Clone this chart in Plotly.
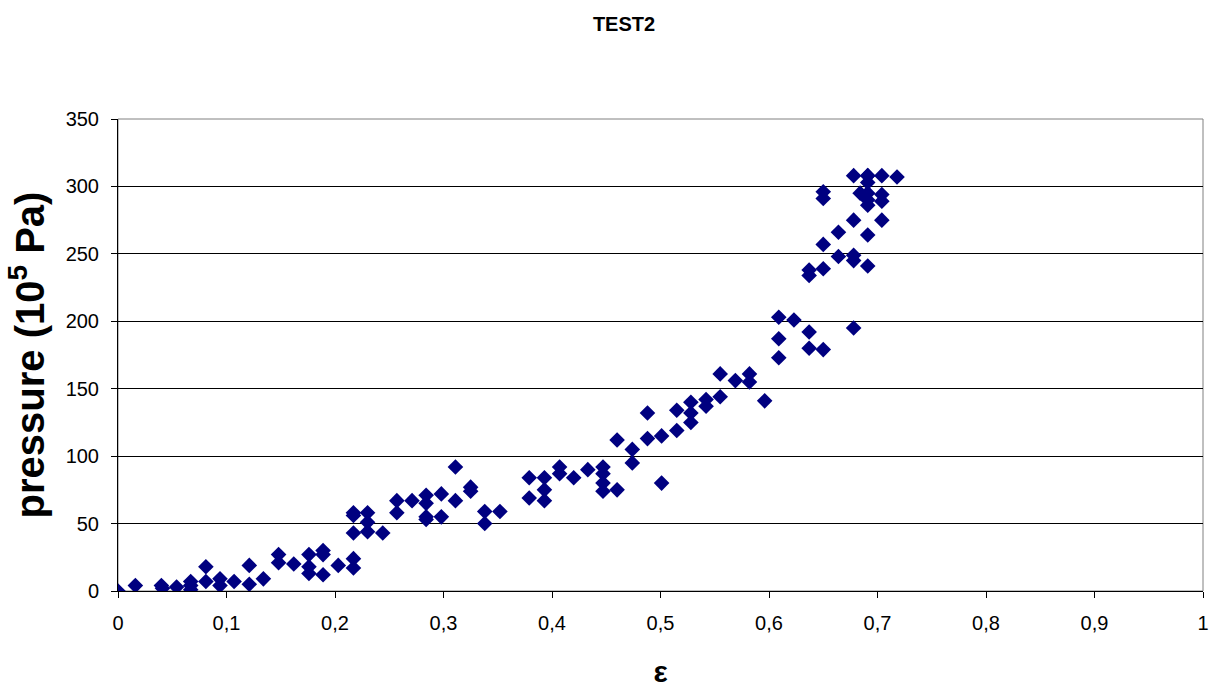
import plotly.graph_objects as go

eps = [
    0.000, 0.016, 0.040, 0.041, 0.054, 0.067, 0.067, 0.067, 0.081, 0.081,
    0.094, 0.094, 0.107, 0.121, 0.121, 0.134, 0.148, 0.148, 0.162, 0.176,
    0.176, 0.176, 0.189, 0.189, 0.189, 0.203, 0.217, 0.217, 0.217, 0.217,
    0.217, 0.230, 0.230, 0.230, 0.244, 0.257, 0.257, 0.271, 0.284, 0.284,
    0.284, 0.284, 0.298, 0.298, 0.311, 0.311, 0.325, 0.325, 0.338, 0.338,
    0.352, 0.379, 0.379, 0.393, 0.393, 0.393, 0.407, 0.407, 0.420, 0.433,
    0.447, 0.447, 0.447, 0.447, 0.460, 0.460, 0.474, 0.474, 0.488, 0.488,
    0.501, 0.501, 0.515, 0.515, 0.528, 0.528, 0.528, 0.542, 0.542, 0.555,
    0.555, 0.569, 0.582, 0.582, 0.596, 0.609, 0.609, 0.609, 0.623, 0.637,
    0.637, 0.650, 0.650, 0.650, 0.650, 0.650, 0.637, 0.637, 0.664, 0.664,
    0.678, 0.678, 0.678, 0.678, 0.678, 0.684, 0.691, 0.691, 0.691, 0.691,
    0.691, 0.691, 0.691, 0.691, 0.704, 0.704, 0.704, 0.704, 0.718,
]
pressure = [
    0, 4, 4, 2, 3, 7, 1, 4, 18, 7,
    9, 4, 7, 19, 5, 9, 27, 21, 20, 27,
    18, 13, 30, 27, 12, 19, 58, 56, 43, 24,
    17, 58, 51, 44, 43, 67, 58, 67, 71, 65,
    55, 53, 72, 55, 92, 67, 77, 74, 59, 50,
    59, 84, 69, 84, 75, 67, 92, 87, 84, 90,
    92, 87, 80, 74, 75, 112, 105, 95, 132, 113,
    115, 80, 134, 119, 140, 132, 125, 142, 137, 161,
    144, 156, 161, 155, 141, 203, 187, 173, 201, 192,
    180, 179, 296, 291, 257, 239, 238, 234, 266, 248,
    308, 275, 249, 245, 195, 295, 308, 303, 295, 290,
    286, 264, 241, 308, 308, 294, 289, 275, 307,
]

x_ticks = [0, 0.1, 0.2, 0.3, 0.4, 0.5, 0.6, 0.7, 0.8, 0.9, 1]
y_ticks = [0, 50, 100, 150, 200, 250, 300, 350]

fig = go.Figure()
fig.add_trace(go.Scatter(
    x=eps, y=pressure, mode="markers",
    marker=dict(symbol="diamond", size=12, color="#000080",
                line=dict(width=0)),
    showlegend=False,
))

fig.update_layout(
    width=1209, height=688,
    margin=dict(l=118, r=6, t=119, b=97, autoexpand=False),
    paper_bgcolor="white", plot_bgcolor="white",
    separators=", ",
    font=dict(family="Liberation Sans, Arial, sans-serif", color="black"),
    title=dict(text="<b>TEST2</b>", x=624 / 1209, xanchor="center",
               y=1 - 24 / 688, yanchor="middle", font=dict(size=20)),
    xaxis=dict(
        range=[0, 1], tickvals=x_ticks, ticks="outside", ticklen=6,
        tickcolor="black", showline=True, linecolor="black", linewidth=1,
        showgrid=False, zeroline=False, tickfont=dict(size=20),
        ticklabelstandoff=8, ticklabeloverflow="allow", automargin=False,
        title=dict(text="<b>ε</b>", font=dict(size=30), standoff=36),
    ),
    yaxis=dict(
        range=[0, 350], tickvals=y_ticks, ticks="outside", ticklen=6,
        tickcolor="black", showline=True, linecolor="black", linewidth=1,
        showgrid=True, gridcolor="black", gridwidth=1, zeroline=False,
        tickfont=dict(size=20), ticklabelstandoff=8, automargin=False,
        title=dict(text="<b>pressure (10<sup>5</sup> Pa)</b>",
                   font=dict(size=40), standoff=8),
    ),
    shapes=[dict(type="rect", xref="paper", yref="paper", x0=0, y0=0,
                 x1=1, y1=1, line=dict(color="#808080", width=1),
                 layer="below")],
)

fig.write_html(
    "out.html", config={"displayModeBar": False},
    post_script=(
        "document.body.style.margin='0';"
        "document.body.style.overflow='hidden';"
    ),
)
